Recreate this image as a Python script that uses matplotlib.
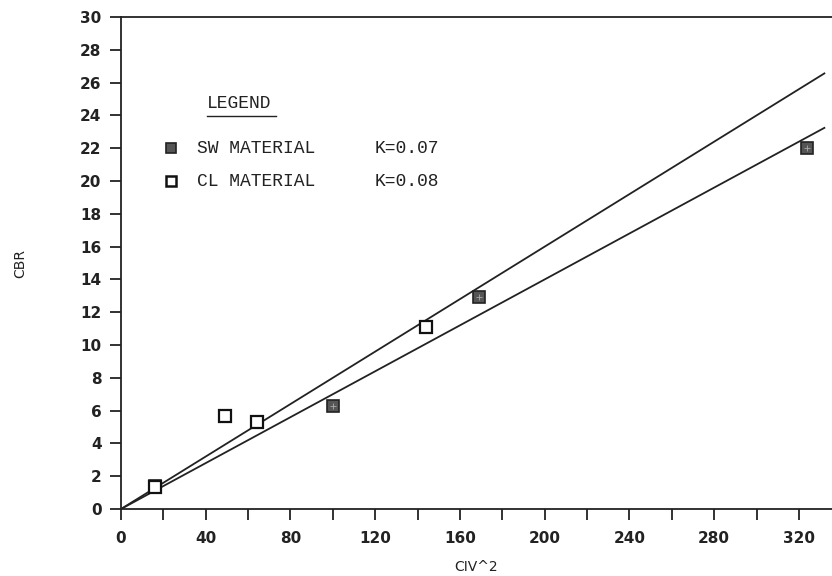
import matplotlib.pyplot as plt
import numpy as np

# data
sw_x = [16, 100, 169, 324]
sw_y = [1.4, 6.3, 12.9, 22.0]
cl_x = [16, 49, 64, 144]
cl_y = [1.35, 5.7, 5.3, 11.1]
k_sw = 0.07
k_cl = 0.08
x_end = 332

xticks = list(range(0, 321, 40))
xminor = list(range(20, 321, 40))
yticks = list(range(0, 31, 2))

fig = plt.figure(figsize=(8.32, 5.76), dpi=100)
ax = fig.add_axes([121 / 832, 1 - 509 / 576, 1 - 121 / 832, (509 - 17) / 576])
ax.set_xlim(0, 335.6)
ax.set_ylim(0, 30)

xs = np.array([0, x_end])
ax.plot(xs, k_cl * xs, color='#222222', lw=1.3)
ax.plot(xs, k_sw * xs, color='#222222', lw=1.3)

ax.plot(sw_x, sw_y, 's', ms=8, mfc='#555555', mec='#222222', mew=1.2, ls='none')
ax.plot(sw_x, sw_y, '+', ms=5, mec='#aaaaaa', mew=0.6, ls='none')
ax.plot(cl_x, cl_y, 's', ms=8, mfc='white', mec='#111111', mew=1.6, ls='none')

ax.spines['right'].set_visible(False)
for s in ['left', 'bottom', 'top']:
    ax.spines[s].set_linewidth(1.3)
    ax.spines[s].set_color('#222222')

tick_font = dict(family='DejaVu Sans', weight='bold', size=11)
ax.set_xticks(xticks)
ax.set_xticks(xminor, minor=True)
ax.set_yticks(yticks)
ax.set_xticklabels([str(v) for v in xticks], **tick_font)
ax.set_yticklabels([str(v) for v in yticks], **tick_font)
ax.tick_params(axis='both', which='both', direction='out', length=8, width=1.3, color='#222222', labelcolor='#222222')
ax.tick_params(axis='x', pad=8)
ax.tick_params(axis='y', pad=6)

ax.set_xlabel('CIV^2', family='DejaVu Sans', size=10, color='#222222', labelpad=10)
ax.set_ylabel('CBR', family='DejaVu Sans', size=10, color='#222222', labelpad=38)

# legend block
mono = dict(family='Liberation Mono', size=13, color='#222222')
ax.text(40.6, 24.7, 'LEGEND', va='center', ha='left', **mono)
ax.plot([40.6, 73.1], [23.95, 23.95], color='#222222', lw=1.0)
ax.plot([23.6], [22], 's', ms=7, mfc='#555555', mec='#222222', mew=1.2)
ax.plot([23.6], [20], 's', ms=7, mfc='white', mec='#111111', mew=1.8)
ax.text(35.9, 22, 'SW MATERIAL', va='center', ha='left', **mono)
ax.text(35.9, 20, 'CL MATERIAL', va='center', ha='left', **mono)
ax.text(119.9, 22, 'K=' + f'{k_sw:.2f}', va='center', ha='left', **mono)
ax.text(119.9, 20, 'K=' + f'{k_cl:.2f}', va='center', ha='left', **mono)

fig.savefig('out.png', dpi=100)
